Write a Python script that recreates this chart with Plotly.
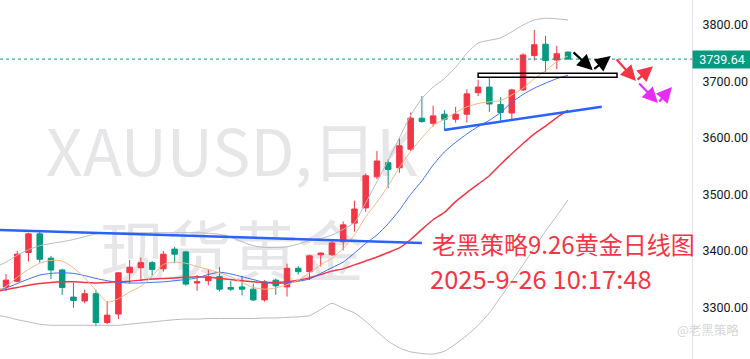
import plotly.graph_objects as go

# ---------------- data ----------------
dates = ["2025-07-18", "2025-07-21", "2025-07-22", "2025-07-23", "2025-07-24", "2025-07-25",
         "2025-07-28", "2025-07-29", "2025-07-30", "2025-07-31", "2025-08-01",
         "2025-08-04", "2025-08-05", "2025-08-06", "2025-08-07", "2025-08-08",
         "2025-08-11", "2025-08-12", "2025-08-13", "2025-08-14", "2025-08-15",
         "2025-08-18", "2025-08-19", "2025-08-20", "2025-08-21", "2025-08-22",
         "2025-08-25", "2025-08-26", "2025-08-27", "2025-08-28", "2025-08-29",
         "2025-09-01", "2025-09-02", "2025-09-03", "2025-09-04", "2025-09-05",
         "2025-09-08", "2025-09-09", "2025-09-10", "2025-09-11", "2025-09-12",
         "2025-09-15", "2025-09-16", "2025-09-17", "2025-09-18", "2025-09-19",
         "2025-09-22", "2025-09-23", "2025-09-24", "2025-09-25", "2025-09-26"]

opens = [3336, 3346, 3397, 3430, 3387, 3366, 3318, 3311, 3324, 3273, 3288,
         3361, 3370, 3379, 3368, 3403, 3398, 3343, 3347, 3354, 3335,
         3336, 3332, 3313, 3348, 3336, 3369, 3363, 3393, 3393, 3416,
         3449, 3476, 3531, 3556, 3547, 3580, 3635, 3626, 3642, 3633,
         3642, 3680, 3690, 3659, 3644, 3685, 3746, 3766, 3738, 3752]
highs = [3359, 3400, 3432, 3437, 3391, 3368, 3343, 3331, 3331, 3311, 3362,
         3384, 3388, 3382, 3400, 3407, 3400, 3357, 3367, 3371, 3347,
         3356, 3342, 3348, 3351, 3377, 3373, 3393, 3397, 3420, 3452,
         3489, 3537, 3577, 3562, 3599, 3645, 3674, 3657, 3649, 3655,
         3686, 3703, 3707, 3672, 3687, 3750, 3791, 3781, 3763, 3753]
lows = [3329, 3344, 3381, 3379, 3350, 3322, 3299, 3307, 3266, 3270, 3279,
        3342, 3347, 3356, 3363, 3378, 3338, 3329, 3339, 3328, 3329,
        3321, 3311, 3310, 3322, 3319, 3358, 3348, 3372, 3391, 3401,
        3434, 3469, 3527, 3511, 3538, 3577, 3627, 3620, 3615, 3627,
        3627, 3674, 3646, 3630, 3633, 3683, 3737, 3717, 3722, 3739]
closes = [3348, 3394, 3430, 3385, 3366, 3335, 3312, 3324, 3273, 3286, 3361,
          3371, 3379, 3367, 3394, 3394, 3341, 3345, 3354, 3332, 3332,
          3332, 3313, 3345, 3338, 3369, 3363, 3391, 3396, 3414, 3446,
          3474, 3533, 3559, 3544, 3586, 3635, 3629, 3639, 3633, 3642,
          3678, 3690, 3660, 3645, 3685, 3747, 3765, 3737, 3749, 3739.64]

# indicator lines, one value per bar (first value = bar before the first shown)
line_idx = list(range(-1, 51))
ma_fast = [3328, 3337, 3353, 3367, 3378, 3383, 3382, 3370, 3352, 3330, 3309, 3315,
           3327, 3337, 3355, 3376, 3380, 3378, 3372, 3367, 3361, 3354,
           3344, 3335, 3332, 3334, 3340, 3348, 3361, 3375, 3387, 3404,
           3428, 3460, 3486, 3515, 3548, 3576, 3600, 3622, 3633, 3645,
           3655, 3661, 3664, 3666, 3676, 3688, 3705, 3719, 3735, 3745]
ma_mid = [3330, 3334, 3342, 3350, 3357, 3360, 3361, 3360, 3356, 3351, 3347, 3344,
          3343, 3343, 3344, 3345, 3347, 3349, 3352, 3358, 3362, 3359,
          3354, 3349, 3344, 3342, 3343, 3346, 3350, 3360, 3370, 3380,
          3396, 3413, 3428, 3448, 3472, 3500, 3524, 3552, 3575, 3592,
          3607, 3620, 3631, 3645, 3663, 3677, 3688, 3697, 3705, 3711]
ma_slow = [3328, 3331, 3335, 3339, 3342, 3344, 3345, 3345, 3344, 3343, 3344, 3345,
           3346, 3348, 3350, 3351, 3352, 3353, 3354, 3353, 3351, 3349,
           3347, 3345, 3344, 3344, 3345, 3348, 3352, 3358, 3364, 3368,
           3375, 3382, 3389, 3397, 3405, 3420, 3438, 3455, 3468, 3487,
           3503, 3518, 3533, 3553, 3572, 3590, 3607, 3621, 3636, 3649]
boll_up = [3370, 3380, 3392, 3402, 3409, 3413, 3416, 3420, 3425, 3430, 3432, 3432,
           3432, 3432, 3432, 3432, 3432, 3432, 3432, 3431, 3429, 3424,
           3416, 3409, 3406, 3406, 3407, 3412, 3418, 3422, 3428, 3438,
           3450, 3485, 3522, 3560, 3600, 3640, 3670, 3690, 3705, 3725,
           3750, 3768, 3773, 3777, 3788, 3800, 3809, 3812, 3811, 3809]
boll_dn = [3286, 3283, 3278, 3274, 3270, 3268, 3268, 3268, 3268, 3268, 3268, 3268,
           3270, 3272, 3274, 3276, 3278, 3279, 3279, 3280, 3280, 3280,
           3280, 3280, 3281, 3281, 3282, 3283, 3285, 3296, 3307, 3298,
           3290, 3275, 3257, 3240, 3228, 3221, 3218, 3217, 3222, 3235,
           3250, 3268, 3290, 3318, 3346, 3375, 3405, 3435, 3462, 3490]

# drawings (bar index, price)
trend_long_x = [-0.53, 37.0]
trend_long_y = [3437, 3414]
trend_short_x = [38.97, 53.0]
trend_short_y = [3614, 3655]
box_x = [42.0, 54.36]
box_y = [3707.4, 3714.4]
arrows = [  # tail_x, tail_y, head_x, head_y, colour
    (50.36, 3754, 52.2, 3720, "#000000"),
    (52.2, 3720, 53.8, 3745, "#000000"),
    (54.2, 3741.5, 56.05, 3701, "#f23645"),
    (56.05, 3701, 57.56, 3727, "#f23645"),
    (56.2, 3699, 58.0, 3662, "#e62cf5"),
    (58.0, 3662, 59.25, 3690, "#e62cf5"),
]
last_price = 3739.64
title_line1 = "老黑策略9.26黄金日线图"
title_line2 = "2025-9-26 10:17:48"
watermark1 = "XAUUSD,日K"
watermark2 = "现货黄金"
credit = "@老黑策略"

UP = "#f23645"
DOWN = "#089981"

# ---------------- figure ----------------
fig = go.Figure()

fig.add_trace(go.Candlestick(
    x=list(range(len(opens))), open=opens, high=highs, low=lows, close=closes,
    text=dates, hoverinfo="text+y",
    increasing=dict(line=dict(color=UP, width=1), fillcolor=UP),
    decreasing=dict(line=dict(color=DOWN, width=1), fillcolor=DOWN),
    whiskerwidth=0,
))

def add_line(y, color, width):
    fig.add_trace(go.Scatter(x=line_idx, y=y, mode="lines",
                             line=dict(color=color, width=width, shape="spline", smoothing=0.6),
                             hoverinfo="skip"))

add_line(boll_up, "#b8bac2", 1)
add_line(boll_dn, "#b8bac2", 1)
add_line(ma_slow, "#f23645", 1.5)
add_line(ma_mid, "#3f6ef5", 1)
add_line(ma_fast, "#f7b583", 1)

for xs, ys in [(trend_long_x, trend_long_y), (trend_short_x, trend_short_y)]:
    fig.add_trace(go.Scatter(x=xs, y=ys, mode="lines",
                             line=dict(color="#2962ff", width=2.5), hoverinfo="skip"))

# watermark texts below everything
fig.add_shape(type="rect", xref="paper", yref="paper", x0=0.0, x1=0.67, y0=0.48, y1=0.64,
              line=dict(width=0), fillcolor="rgba(0,0,0,0)", layer="below",
              label=dict(text=watermark1, textposition="middle center",
                         font=dict(family="Noto Sans CJK SC", size=64, color="#e6e6e9")))
fig.add_shape(type="rect", xref="paper", yref="paper", x0=0.0, x1=0.67, y0=0.20, y1=0.36,
              line=dict(width=0), fillcolor="rgba(0,0,0,0)", layer="below",
              label=dict(text=watermark2, textposition="middle center",
                         font=dict(family="Noto Sans CJK SC", size=66, color="#e6e6e9")))

# last price dotted line
fig.add_shape(type="line", xref="paper", yref="y", x0=0, x1=1, y0=last_price, y1=last_price,
              line=dict(color=DOWN, width=1, dash="dot"))

# rectangle drawing
fig.add_shape(type="rect", xref="x", yref="y", x0=box_x[0], x1=box_x[1], y0=box_y[0], y1=box_y[1],
              line=dict(color="#000000", width=1.5), fillcolor="rgba(0,0,0,0)")

for tx, ty, hx, hy, col in arrows:
    fig.add_annotation(x=hx, y=hy, ax=tx, ay=ty, xref="x", yref="y", axref="x", ayref="y",
                       text="", showarrow=True, arrowhead=2, arrowsize=1.4, arrowwidth=2.2,
                       arrowcolor=col, standoff=0, startstandoff=0)

fig.add_annotation(xref="paper", yref="paper", x=430 / 692, y=1 - 244 / 359,
                   xanchor="left", yanchor="middle", text=title_line1, showarrow=False,
                   font=dict(family="Noto Sans CJK SC", size=24, color="#f23645"))
fig.add_annotation(xref="paper", yref="paper", x=428 / 692, y=1 - 277 / 359,
                   xanchor="left", yanchor="middle", text=title_line2, showarrow=False,
                   font=dict(family="Noto Sans CJK SC", size=25.5, color="#f23645"))

# price label on axis
fig.add_annotation(xref="paper", yref="y", x=1, y=last_price, xanchor="left", yanchor="middle",
                   text=f"{last_price:.2f}", showarrow=False, bgcolor=DOWN,
                   width=54, height=13, borderpad=2, xshift=0,
                   font=dict(family="Roboto", size=12.5, color="white"))

fig.add_annotation(xref="paper", yref="paper", x=741 / 692, y=1 - 329 / 359,
                   xanchor="right", yanchor="middle", text=credit, showarrow=False,
                   font=dict(family="Noto Sans CJK SC", size=12.5, color="#d6d6d6"))

fig.update_layout(
    width=750, height=359, margin=dict(l=0, r=58, t=0, b=0),
    plot_bgcolor="white", paper_bgcolor="white", showlegend=False,
    xaxis=dict(range=[-0.534, 61.03], visible=False, rangeslider=dict(visible=False)),
    yaxis=dict(side="right", range=[3208.3, 3844.3], showgrid=False, zeroline=False,
               showline=True, linecolor="#e0e3eb", linewidth=1,
               tick0=3300, dtick=100, tickformat=".2f", ticks="",
               ticklabelstandoff=7,
               tickfont=dict(family="Roboto", size=12.5, color="#131722")),
)

fig.write_html("out.html", config={"displayModeBar": False},
               post_script="document.body.style.margin='0';document.body.style.overflow='hidden';")
